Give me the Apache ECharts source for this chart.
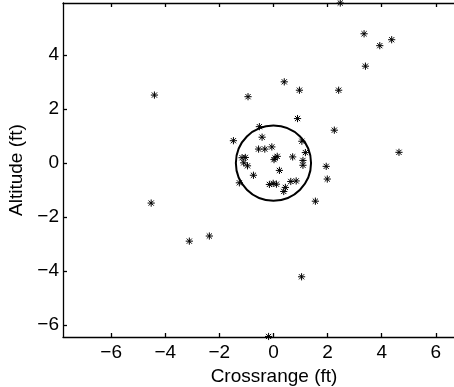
<!DOCTYPE html>
<html>
<head>
<meta charset="utf-8">
<script src="https://cdn.jsdelivr.net/npm/echarts@6/dist/echarts.min.js"></script>
<style>
html,body{margin:0;padding:0;background:#fff;overflow:hidden;width:454px;height:387px;}
#chart{width:485px;height:387px;}
</style>
</head>
<body>
<div id="chart"></div>
<script>
// Impact points (crossrange ft, altitude ft)
const crossrange = [2.47, 3.35, 3.93, 4.37, 3.40, 0.40, 0.96, 2.41, -0.94, -4.40,
  0.89, 2.25, 4.64, -1.48, -0.52, 1.95, 1.99, 1.55, 1.04, -0.18,
  -4.52, -3.11, -2.37, -0.42, -0.55, -0.32, -0.06, 1.05, 1.18, 0.71,
  1.09, 1.09, 0.02, 0.14, 0.06, -1.16, -1.04, -1.10, -0.96, 0.22,
  -0.74, -1.26, -0.15, 0.11, 0.64, 0.84, 0.44, 0.38, -0.01];
const altitude = [5.93, 4.79, 4.35, 4.57, 3.59, 3.01, 2.70, 2.70, 2.46, 2.52,
  1.65, 1.22, 0.40, 0.83, 1.35, -0.12, -0.59, -1.41, -4.21, -6.42,
  -1.48, -2.89, -2.70, 0.96, 0.52, 0.52, 0.60, 0.81, 0.39, 0.23,
  0.10, -0.08, 0.13, 0.25, 0.19, 0.20, 0.21, 0.01, -0.10, -0.27,
  -0.45, -0.73, -0.79, -0.78, -0.68, -0.66, -0.90, -1.05, -0.75];
const circleCenter = [0, 0];
const circleRadius = 1.39;
const xTickValues = [-6, -4, -2, 0, 2, 4, 6];
const yTickValues = [-6, -4, -2, 0, 2, 4];
const xLabel = 'Crossrange (ft)';
const yLabel = 'Altitude (ft)';

const points = crossrange.map((x, i) => [x, altitude[i]]);
const FONT = "'Liberation Sans', Arial, Helvetica, sans-serif";
const fmt = v => String(v).replace('-', '\u2212');

const chart = echarts.init(document.getElementById('chart'), null, {renderer: 'canvas', width: 485, height: 387});

const lineStyle = {color: '#000', width: 1.3};
function makeX(pos, showLabel) {
  return {
    type: 'value', position: pos, min: -7.78, max: 7.82,
    axisLine: {show: true, onZero: false, lineStyle: lineStyle},
    axisTick: {show: true, inside: true, length: 4, customValues: xTickValues, lineStyle: lineStyle},
    axisLabel: {show: showLabel, customValues: xTickValues, formatter: fmt, fontSize: 19, color: '#000', fontFamily: FONT, margin: 6},
    splitLine: {show: false},
    name: showLabel ? xLabel : '', nameLocation: 'middle', nameGap: 33,
    nameTextStyle: {fontSize: 19, color: '#000', fontFamily: FONT, verticalAlign: 'middle'}
  };
}
function makeY(pos, showLabel) {
  return {
    type: 'value', position: pos, min: -6.44, max: 5.93,
    axisLine: {show: true, onZero: false, lineStyle: lineStyle},
    axisTick: {show: true, inside: true, length: 4, customValues: yTickValues, lineStyle: lineStyle},
    axisLabel: {show: showLabel, customValues: yTickValues, formatter: fmt, fontSize: 19, color: '#000', fontFamily: FONT, margin: 4},
    splitLine: {show: false},
    name: showLabel ? yLabel : '', nameLocation: 'middle', nameGap: 42, nameRotate: 90,
    nameTextStyle: {fontSize: 19, color: '#000', fontFamily: FONT, verticalAlign: 'middle'}
  };
}

chart.setOption({
  animation: false,
  backgroundColor: '#fff',
  grid: {left: 63, top: 3, right: 0, bottom: 50, containLabel: false, outerBoundsMode: 'none'},
  xAxis: [makeX('bottom', true), makeX('top', false)],
  yAxis: [makeY('left', true), makeY('right', false)],
  series: [
    {
      type: 'custom',
      xAxisIndex: 0, yAxisIndex: 0,
      data: [[circleCenter[0], circleCenter[1], circleRadius]],
      renderItem: function (params, api) {
        const c = api.coord([api.value(0), api.value(1)]);
        const r = api.size([api.value(2), 0])[0];
        return {type: 'circle', shape: {cx: c[0], cy: c[1], r: r},
          style: {fill: 'none', stroke: '#000', lineWidth: 2}};
      },
      z: 2
    },
    {
      type: 'custom',
      xAxisIndex: 0, yAxisIndex: 0,
      data: points,
      clip: false,
      renderItem: function (params, api) {
        const p = api.coord([api.value(0), api.value(1)]);
        const r = 3.6, d = r * 0.72;
        const st = {stroke: '#000', lineWidth: 1};
        const seg = (x1, y1, x2, y2) => ({type: 'line', shape: {x1: p[0] + x1, y1: p[1] + y1, x2: p[0] + x2, y2: p[1] + y2}, style: st});
        return {type: 'group', children: [
          seg(-r, 0, r, 0), seg(0, -r, 0, r), seg(-d, -d, d, d), seg(-d, d, d, -d)
        ]};
      },
      z: 3
    }
  ]
});
</script>
</body>
</html>
